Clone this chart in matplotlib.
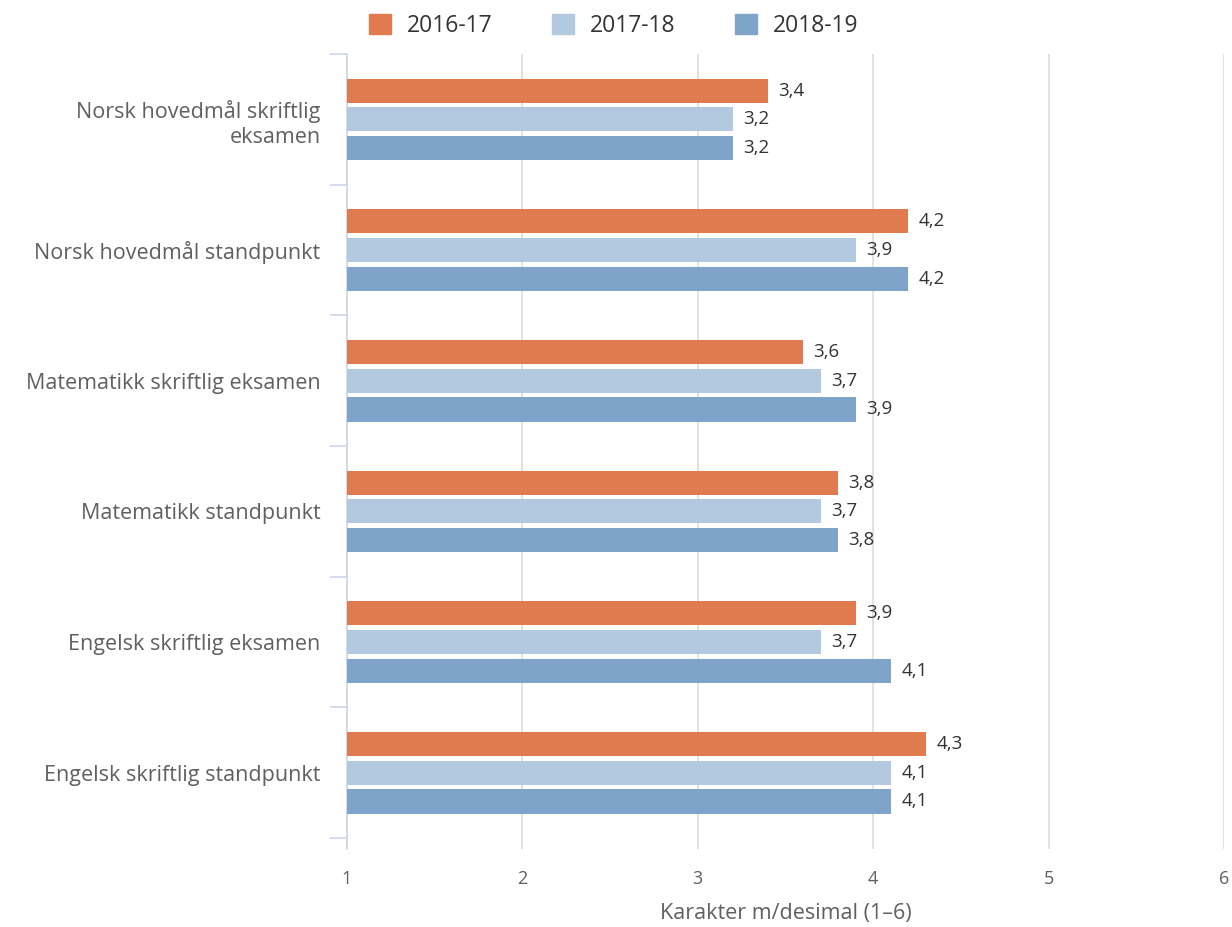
import numpy as np
import matplotlib.pyplot as plt
from matplotlib.patches import Patch

categories = ['Norsk hovedmål skriftlig\neksamen', 'Norsk hovedmål standpunkt',
              'Matematikk skriftlig eksamen', 'Matematikk standpunkt',
              'Engelsk skriftlig eksamen', 'Engelsk skriftlig standpunkt']
years = ['2016-17', '2017-18', '2018-19']
v1617 = [3.4, 4.2, 3.6, 3.8, 3.9, 4.3]
v1718 = [3.2, 3.9, 3.7, 3.7, 3.7, 4.1]
v1819 = [3.2, 4.2, 3.9, 3.8, 4.1, 4.1]
colors = ['#e07b4f', '#b3c9df', '#7ea4c9']

plt.rcParams['font.family'] = ['Open Sans', 'DejaVu Sans']
txt = '#606060'

fig = plt.figure(figsize=(12.32, 9.27), dpi=100)
# axis area: x from 347 to 1224 px, y from 54 to 849 px
ax = fig.add_axes([347/1232, 1-849/927, (1224-347)/1232, (849-54)/927])

y = np.arange(len(categories))
step = 0.22
h = 0.185
for i, vals in enumerate([v1617, v1718, v1819]):
    pos = y + (i - 1) * step
    ax.barh(pos, np.array(vals) - 1, left=1, height=h, color=colors[i], zorder=3)
    for p, v in zip(pos, vals):
        ax.text(v + 0.06, p, ('%.1f' % v).replace('.', ','), va='center', ha='left',
                fontsize=13.5, color='#333333', zorder=4)

ax.set_xlim(1, 6)
ax.set_ylim(len(categories) - 0.5 + 0.084, -0.5)
ax.set_xticks([1, 2, 3, 4, 5, 6])
ax.tick_params(axis='x', length=0, pad=15, labelsize=13, labelcolor=txt)
ax.grid(axis='x', color='#dddddd', linewidth=1.2, zorder=0)
ax.set_yticks(y)
ax.set_yticklabels(categories, fontsize=15.5, color=txt, ha='right', linespacing=1.25)
ax.tick_params(axis='y', length=0, pad=19)
ax.set_yticks(np.arange(-0.5, len(categories)), minor=True)
ax.tick_params(axis='y', which='minor', length=12, color='#ccd6eb', width=1.2)
for s in ['top', 'right', 'bottom']:
    ax.spines[s].set_visible(False)
ax.spines['left'].set_color('#ccd6eb')
ax.spines['left'].set_linewidth(1.2)
ax.set_xlabel('Karakter m/desimal (1–6)', fontsize=15.5, color=txt, labelpad=11)

handles = [Patch(color=c) for c in colors]
fig.legend(handles, years, loc='center', bbox_to_anchor=(614/1232, 1-26/927), ncol=3,
           frameon=False, fontsize=16.5, handlelength=0.95, handleheight=0.95,
           columnspacing=2.6, handletextpad=0.7, labelcolor='#333333')

fig.savefig('out.png', dpi=100)
